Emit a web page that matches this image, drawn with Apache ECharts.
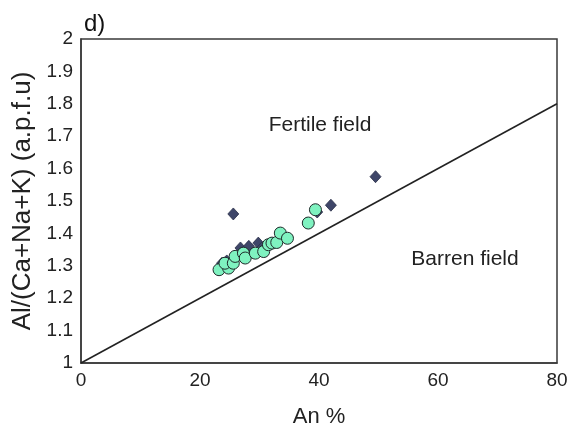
<!DOCTYPE html>
<html>
<head>
<meta charset="utf-8">
<script src="https://cdn.jsdelivr.net/npm/echarts@6/dist/echarts.min.js"></script>
<style>html,body{margin:0;padding:0;background:#fff}#c{width:575px;height:433px}</style>
</head>
<body>
<div id="c"></div>
<script>
// Data
const diamondX = [25.6, 49.5, 42.0, 39.7, 23.7, 24.5, 26.8, 28.2, 27.9, 29.8, 30.4];
const diamondY = [1.460, 1.575, 1.487, 1.466, 1.308, 1.315, 1.355, 1.360, 1.329, 1.370, 1.355];
const circleX = [23.2, 24.8, 24.2, 25.6, 25.9, 27.3, 27.6, 29.3, 30.7, 31.5, 32.1, 32.9, 33.5, 34.7, 38.2, 39.4];
const circleY = [1.288, 1.293, 1.308, 1.308, 1.329, 1.339, 1.324, 1.339, 1.344, 1.365, 1.370, 1.372, 1.401, 1.385, 1.432, 1.473];
const boundaryX = [0, 80];
const boundaryY = [1, 1.8];
const xTicks = [0, 20, 40, 60, 80];
const yTicks = [1, 1.1, 1.2, 1.3, 1.4, 1.5, 1.6, 1.7, 1.8, 1.9, 2];

const zip = (a, b) => a.map((v, i) => [v, b[i]]);
const chart = echarts.init(document.getElementById('c'), null, {renderer: 'canvas'});
const FONT = 'Liberation Sans, Arial, sans-serif';
const axisLine = {show: true, lineStyle: {color: '#3a3a3a', width: 1.5}};
chart.setOption({
  animation: false,
  backgroundColor: '#fff',
  grid: {left: 81, right: 18, top: 39, bottom: 70, show: false},
  xAxis: {
    type: 'value', min: xTicks[0], max: xTicks[xTicks.length - 1], interval: 20,
    axisLine: axisLine, axisTick: {show: false}, splitLine: {show: false},
    axisLabel: {color: '#222', fontSize: 19, fontFamily: FONT, margin: 8},
    name: 'An %', nameLocation: 'middle', nameGap: 43,
    nameTextStyle: {color: '#222', fontSize: 22, fontFamily: FONT}
  },
  yAxis: {
    type: 'value', min: yTicks[0], max: yTicks[yTicks.length - 1], interval: 0.1,
    axisLine: axisLine, axisTick: {show: false}, splitLine: {show: false},
    axisLabel: {color: '#222', fontSize: 19, fontFamily: FONT, margin: 8,
      formatter: v => String(Math.round(v * 10) / 10)},
    name: 'Al/(Ca+Na+K) (a.p.f.u)', nameLocation: 'middle', nameGap: 45, nameRotate: 90,
    nameTextStyle: {color: '#222', fontSize: 26, fontFamily: FONT}
  },
  series: [
    {
      type: 'line', data: zip(boundaryX, boundaryY), symbol: 'none',
      lineStyle: {color: '#222', width: 1.6}, z: 1
    },
    {
      type: 'scatter', data: zip(diamondX, diamondY), symbol: 'diamond', symbolSize: [11, 12],
      itemStyle: {color: '#3f4669', borderColor: '#2a2f48', borderWidth: 0.8, opacity: 1}, z: 3
    },
    {
      type: 'scatter', data: zip(circleX, circleY), symbol: 'circle', symbolSize: 12,
      itemStyle: {color: '#7ff2c0', borderColor: '#1e2a2a', borderWidth: 1, opacity: 1}, z: 4
    }
  ],
  graphic: [
    {type: 'rect', shape: {x: 81, y: 39, width: 476, height: 324},
      style: {fill: 'none', stroke: '#3a3a3a', lineWidth: 1.5}, silent: true, z: 0},
    {type: 'text', x: 84, y: 24, style: {text: 'd)', fill: '#111', font: '24px ' + FONT, verticalAlign: 'middle'}},
    {type: 'text', x: 320, y: 125, style: {text: 'Fertile field', fill: '#222', font: '21px ' + FONT, align: 'center', verticalAlign: 'middle'}},
    {type: 'text', x: 465, y: 259, style: {text: 'Barren field', fill: '#222', font: '21px ' + FONT, align: 'center', verticalAlign: 'middle'}}
  ]
});
</script>
</body>
</html>
